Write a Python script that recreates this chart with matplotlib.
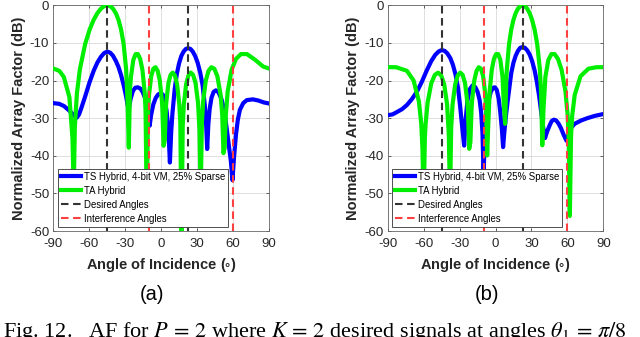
import matplotlib
matplotlib.use('Agg')
import matplotlib.pyplot as plt

plt.rcParams['font.family'] = 'Liberation Sans'
plt.rcParams['axes.unicode_minus'] = False
plt.rcParams['mathtext.fontset'] = 'stix'

# ---- data (angle in degrees, level in dB) ----
x_ticks = [-90, -60, -30, 0, 30, 60, 90]
y_ticks = [-60, -50, -40, -30, -20, -10, 0]

desired_angles = [-45, 22.5]
interference_angles = [-10, 60]

# (a) TS Hybrid, 4-bit VM, 25% Sparse
ts_a_angle = [-90, -85, -81, -77, -73.5, -70.5, -68.5, -66.5, -63.5, -59.7, -56.3, -53.2,
              -50.3, -47.6, -45, -42.5, -40.2, -37.8, -35.6, -33.4, -31.3, -29.2, -27.2,
              -25.5, -23.5, -21.5, -19.5, -17.5, -15.5, -13.6, -12, -10.6, -9.6, -8.3,
              -6.5, -4.5, -2.5, -0.5, 1.3, 3.0, 4.6, 6.0, 7.3, 8.4, 9.4, 11.3, 13.1, 14.9,
              16.8, 18.7, 20.6, 22.5, 24.5, 26.4, 28.4, 30.5, 32.6, 34.6, 36.4, 37.6,
              38.4, 39.4, 40.5, 42.0, 43.8, 45.7, 47.8, 50.2, 52.5, 54.6, 56.6, 58.2,
              59.5, 60.8, 62.4, 64.0, 65.7, 68.5, 71.5, 76.5, 81, 85.5, 90]
ts_a_db = [-26.0, -26.2, -26.8, -27.9, -29.0, -29.9, -29.0, -27.2, -24.3, -20.4, -17.4, -15.2,
           -13.7, -12.7, -12.3, -12.6, -13.4, -14.8, -16.4, -18.6, -21.2, -24.3, -27.8,
           -24.9, -22.7, -21.9, -21.8, -22.1, -23.0, -24.5, -26.6, -29.5, -32.0, -29.0,
           -26.3, -24.6, -23.7, -23.4, -23.7, -25.3, -28.2, -32.8, -41.8, -33.5, -28.8,
           -22.3, -18.2, -15.5, -13.5, -12.3, -11.6, -11.4, -11.6, -12.3, -13.5, -15.3,
           -17.9, -21.3, -26.5, -32.0, -38.2, -31.5, -27.5, -24.6, -23.0, -22.6, -23.1,
           -24.8, -27.6, -32.5, -37.5, -41.5, -46.5, -40.5, -34.5, -30.4, -27.8, -26.0,
           -25.2, -25.0, -25.3, -25.8, -26.1]

# (a) TA Hybrid
ta_a_angle = [-90, -85, -81.25, -76.59, -74, -73, -72, -70.30, -67.80, -63.46, -59.70,
              -56.32, -53.21, -50.32, -47.59, -45, -42.52, -40.15, -37.83, -35.60, -33.43,
              -31.31, -29.23, -28, -27, -26, -25.21, -23.24, -21.31, -19.40, -17.51, -15.64,
              -13.79, -13, -12, -11, -10.13, -8.31, -6.51, -4.71, -2.92, -1.12, 0.67, 1, 2,
              3, 4, 4.25, 6.05, 7.85, 9.67, 11.49, 13.32, 15.17, 16, 17, 18, 18.91, 20.82,
              22.74, 24.70, 26.69, 28.71, 30.77, 32, 33, 34, 35.04, 37.26, 39.55, 41.91,
              44.36, 46.91, 49.61, 51, 52, 53, 54, 55.50, 58.79, 62.46, 66.62, 71.65,
              78.63, 85, 90]
ta_a_db = [-16.80, -17.43, -19.03, -24.41, -35.37, -49.56, -32.11, -23.38, -16.95, -10.33,
           -6.46, -3.87, -2.08, -0.90, -0.22, 0.0, -0.22, -0.90, -2.08, -3.87, -6.46, -10.33,
           -16.95, -25.93, -37.85, -22.36, -19.03, -14.54, -12.97, -12.96, -14.25, -17.12,
           -22.95, -28.11, -55.0, -28.88, -23.80, -18.84, -16.85, -16.46, -17.42, -19.98,
           -25.53, -27.3, -37.35, -35.91, -26.97, -25.88, -20.69, -18.49, -17.89, -18.66,
           -21.03, -26.39, -31.41, -61.76, -31.98, -26.39, -21.03, -18.66, -17.89, -18.49,
           -20.69, -25.88, -33.17, -50.53, -31.21, -25.53, -19.98, -17.42, -16.46, -16.85,
           -18.84, -23.80, -29.18, -39.30, -37.88, -28.97, -22.95, -17.12, -14.25, -12.96,
           -12.97, -14.54, -16.25, -16.80]

# (b) TS Hybrid, 4-bit VM, 25% Sparse
ts_b_angle = [-90, -86, -82.5, -78, -74, -70, -65.7, -61.5, -57.4, -53.6, -50.4, -47.6, -45,
              -42.5, -40.2, -37.8, -35.6, -33.4, -31.3, -29.5, -27.8, -26.2, -25.0, -23.5,
              -21.5, -19.2, -17.0, -15.0, -13.3, -12.0, -10.9, -10.0, -9.0, -7.8, -6.0,
              -4.0, -2.0, -0.5, 1.0, 2.6, 4.0, 5.3, 6.3, 7.4, 8.8, 10.1, 11.5, 13.1, 14.9,
              16.8, 18.7, 20.6, 22.5, 24.5, 26.5, 28.5, 30.5, 32.6, 34.5, 36.4, 38.1, 39.8,
              41.3, 43.0, 45.3, 47.0, 48.7, 50.5, 52.5, 54.5, 56.8, 59.2, 60.8, 63.0, 66,
              71.5, 76.6, 82.7, 90]
ts_b_db = [-29.2, -29.0, -28.4, -27.6, -26.5, -25.0, -23.0, -20.3, -17.3, -14.8, -13.2, -12.3,
           -11.9, -12.1, -12.8, -14.0, -15.8, -18.4, -22.0, -27.0, -32.5, -37.3, -30.5, -25.5,
           -22.3, -21.3, -21.7, -23.0, -25.2, -28.5, -34.0, -45.0, -35.5, -29.5, -25.5,
           -23.0, -21.9, -21.8, -22.5, -24.8, -28.5, -33.0, -37.7, -33.5, -29.0, -25.5,
           -22.0, -18.0, -15.3, -13.4, -12.1, -11.3, -11.1, -11.3, -12.0, -13.1, -14.8,
           -17.3, -20.4, -24.2, -28.4, -32.5, -35.3, -33.6, -31.8, -30.7, -30.4, -30.6,
           -31.4, -32.6, -34.4, -36.0, -34.5, -32.6, -31.5, -30.6, -30.0, -29.4, -28.9]

# (b) TA Hybrid
ta_b_angle = [-90, -82.89, -73.96, -68.41, -63.98, -62.0, -61, -60, -59, -58.39, -56.73,
              -53.61, -50.68, -47.93, -45.33, -42.83, -40.43, -39, -38, -37, -35.88, -33.70,
              -31.57, -29.50, -27.46, -25.46, -23.49, -23, -22, -21, -20, -19.64, -17.75,
              -15.87, -14.02, -12.19, -10.36, -8.54, -8, -7, -6, -4.94, -3.14, -1.35, 0.44,
              2.23, 4.02, 5.82, 7, 8, 9, 9.44, 11.26, 13.09, 14.93, 16.80, 18.68, 20.58,
              22.5, 24.45, 26.44, 28.45, 30.51, 32.61, 34.76, 36.97, 38, 39, 40, 41.60,
              44.04, 46.59, 49.27, 52.09, 55.10, 58.36, 60.13, 61, 62, 63, 63.94, 66.06,
              70.94, 77.53, 84, 90]
ta_b_db = [-16.43, -16.46, -17.42, -19.98, -25.53, -31.48, -38.12, -53.18, -35.28, -31.65,
           -25.88, -20.69, -18.49, -17.89, -18.66, -21.03, -26.39, -34.53, -51.67, -32.33,
           -26.39, -21.03, -18.66, -17.89, -18.49, -20.69, -25.88, -28.13, -38.14, -36.37,
           -27.47, -25.53, -19.98, -17.42, -16.46, -16.85, -18.84, -23.80, -26.39, -39.91,
           -30.97, -22.95, -17.12, -14.25, -12.96, -12.97, -14.54, -19.03, -27.08, -31.50,
           -19.52, -16.95, -10.33, -6.46, -3.87, -2.08, -0.90, -0.22, 0.0, -0.22, -0.90,
           -2.08, -3.87, -6.46, -10.33, -16.95, -23.18, -37.21, -27.66, -19.03, -14.54,
           -12.97, -12.96, -14.25, -17.12, -22.95, -29.03, -34.95, -56.0, -34.67, -29.46,
           -23.80, -18.84, -16.85, -16.46, -16.43]


def draw_panel(ax, ts_angle, ts_db, ta_angle, ta_db):
    ax.plot(ts_angle, ts_db, color='#0000ff', lw=3.0, solid_joinstyle='round',
            label='TS Hybrid, 4-bit VM, 25% Sparse', zorder=3)
    ax.plot(ta_angle, ta_db, color='#00ee00', lw=3.0, solid_joinstyle='round',
            label='TA Hybrid', zorder=3)
    for i, a in enumerate(desired_angles):
        ax.axvline(a, color='#333333', lw=1.5, dashes=(3.6, 2.2), zorder=4,
                   label='Desired Angles' if i == 0 else None)
    for i, a in enumerate(interference_angles):
        ax.axvline(a, color='#ff4040', lw=1.5, dashes=(3.6, 2.2), zorder=4,
                   label='Interference Angles' if i == 0 else None)

    ax.set_xlim(-90, 90)
    ax.set_ylim(-60, 0)
    ax.set_xticks(x_ticks)
    ax.set_yticks(y_ticks)
    ax.grid(True, color='0.85', lw=0.6)
    ax.set_axisbelow(True)
    ax.tick_params(direction='in', top=True, right=True, length=2.5, width=0.5,
                   colors='#262626', labelsize=9.5)
    ax.tick_params(axis='x', pad=5)
    ax.tick_params(axis='y', pad=3)
    for s in ax.spines.values():
        s.set_color('0.4')
        s.set_linewidth(0.6)

    ax.set_xlabel('Angle of Incidence ($\\circ$)', fontsize=10.5, fontweight='bold',
                  color='#262626')
    ax.set_ylabel('Normalized Array Factor (dB)', fontsize=10.5, fontweight='bold',
                  color='#262626')
    ax.xaxis.set_label_coords(0.5, -0.11)
    ax.yaxis.set_label_coords(-0.127, 0.5)

    leg = ax.legend(loc='lower left', bbox_to_anchor=(0.0218, 0.019), borderaxespad=0,
                    fontsize=6.9, handlelength=2.1, handletextpad=0.3, labelspacing=0.42,
                    borderpad=0.3, fancybox=False, framealpha=1, edgecolor='0.2')
    leg.get_frame().set_linewidth(0.6)
    leg.set_zorder(10)


fig = plt.figure(figsize=(6.4, 3.37), dpi=100)
ax_a = fig.add_axes([0.0833, 0.3145, 0.337, 0.6697])
ax_b = fig.add_axes([0.6058, 0.3145, 0.337, 0.6697])

draw_panel(ax_a, ts_a_angle, ts_a_db, ta_a_angle, ta_a_db)
draw_panel(ax_b, ts_b_angle, ts_b_db, ta_b_angle, ta_b_db)

fig.text(151.7 / 640, 1 - 295 / 337, '(a)', ha='center', va='center', fontsize=14.5)
fig.text(486.7 / 640, 1 - 295 / 337, '(b)', ha='center', va='center', fontsize=14.5)

fig.text(0.004, 0.001,
         r'Fig. 12.   AF for $P\,=\,2$ where $K\,=\,2$ desired signals at angles $\theta_1\,=\,\pi/8$',
         family='Liberation Serif', fontsize=16, va='baseline', ha='left')

fig.savefig('out.png', dpi=100)
